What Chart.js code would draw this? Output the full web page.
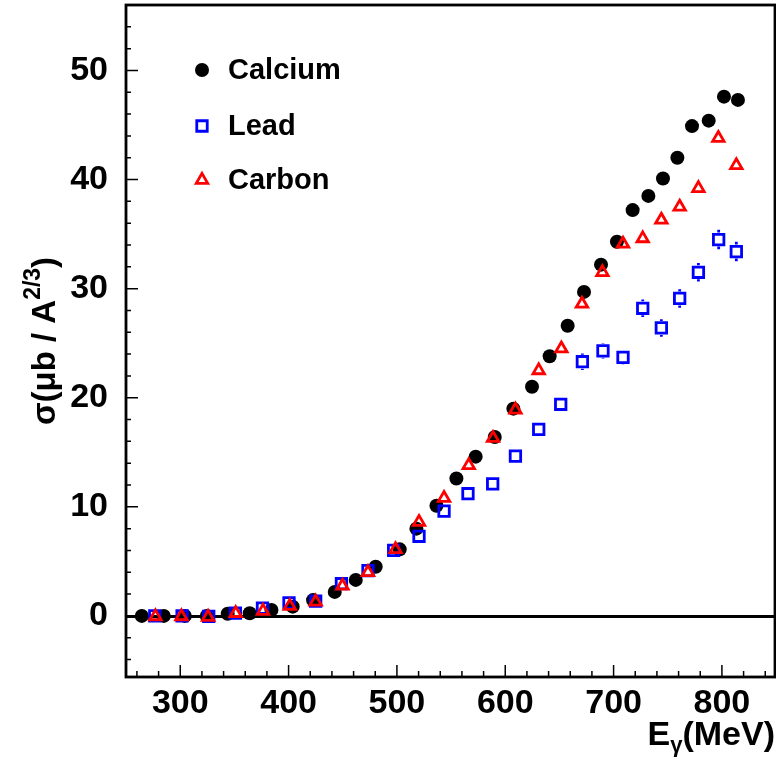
<!DOCTYPE html>
<html>
<head>
<meta charset="utf-8">
<script src="https://cdn.jsdelivr.net/npm/chart.js@4.4.1/dist/chart.umd.min.js"></script>
<style>
  html, body { margin: 0; padding: 0; background: #fff; }
</style>
</head>
<body>
<canvas id="chart" width="776" height="760"></canvas>
<script>
/* ---- data (E_gamma in MeV, sigma in ub / A^2/3) ---- */
const calciumE = [264.5, 284.8, 304.2, 324.5, 343.8, 364.1, 384.2, 403.8, 422.6, 442.6, 462.0, 480.4,
  502.6, 518.0, 536.5, 554.9, 572.7, 590.3, 607.5, 624.7, 641.0, 657.6, 672.7, 688.4, 703.1, 717.6,
  732.1, 745.6, 758.9, 772.4, 787.8, 801.9, 814.8];
const calciumXs = [0.0, 0.0, 0.0, 0.0, 0.2, 0.25, 0.55, 0.85, 1.45, 2.2, 3.3, 4.5,
  6.1, 8.0, 10.1, 12.6, 14.6, 16.4, 19.0, 21.0, 23.8, 26.6, 29.7, 32.2, 34.3, 37.2,
  38.5, 40.1, 42.0, 44.9, 45.4, 47.6, 47.3];

const leadE = [276.5, 301.7, 326.3, 350.9, 375.9, 400.4, 425.0, 448.8, 473.3, 497.0, 520.4, 543.5,
  565.6, 588.4, 609.4, 630.9, 651.2, 671.2, 690.2, 708.7, 726.9, 744.1, 761.0, 778.3, 797.0, 813.3];
const leadXs = [0.0, 0.0, -0.05, 0.25, 0.72, 1.2, 1.35, 2.95, 4.15, 6.0, 7.3, 9.6,
  11.2, 12.1, 14.65, 17.1, 19.4, 23.3, 24.3, 23.7, 28.2, 26.4, 29.1, 31.5, 34.5, 33.4];
const leadErr = [0.15, 0.15, 0.15, 0.2, 0.2, 0.25, 0.25, 0.3, 0.3, 0.35, 0.35, 0.4,
  0.4, 0.45, 0.55, 0.55, 0.6, 0.75, 0.7, 0.65, 0.8, 0.8, 0.85, 0.85, 0.9, 0.9];

const carbonE = [277.1, 301.1, 325.7, 351.2, 376.4, 401.1, 425.0, 449.7, 473.3, 498.7, 520.4, 543.5,
  566.3, 588.7, 609.4, 630.9, 651.8, 670.8, 689.7, 708.7, 726.9, 744.1, 761.0, 778.3, 796.7, 813.3];
const carbonXs = [-0.05, -0.05, -0.1, 0.25, 0.45, 0.9, 1.3, 2.75, 4.0, 6.1, 8.6, 10.8,
  13.8, 16.3, 18.9, 22.5, 24.5, 28.6, 31.5, 34.1, 34.6, 36.3, 37.5, 39.2, 43.8, 41.3];

const xTicks = [300, 400, 500, 600, 700, 800];
const yTicks = [0, 10, 20, 30, 40, 50];
const seriesNames = ["Calcium", "Lead", "Carbon"];

const FONT = '"Liberation Sans", Arial, Helvetica, sans-serif';

const toPoints = (xs, ys) => xs.map((x, i) => ({ x, y: ys[i] }));

// frame, inward ticks, zero line, error bars, titles and legend (ROOT style)
const rootStyle = {
  id: "rootStyle",
  beforeDatasetsDraw(chart) {
    const { ctx, chartArea: a, scales: { y } } = chart;
    const y0 = Math.round(y.getPixelForValue(0)) + 0.5;
    ctx.save();
    ctx.strokeStyle = "#000";
    ctx.lineWidth = 3;
    ctx.beginPath();
    ctx.moveTo(a.left, y0);
    ctx.lineTo(a.right, y0);
    ctx.stroke();
    ctx.restore();
  },
  afterDatasetsDraw(chart) {
    const { ctx, scales: { x, y } } = chart;
    const half = 7;
    ctx.save();
    ctx.strokeStyle = "#0000ff";
    ctx.lineWidth = 2.8;
    leadE.forEach((e, i) => {
      const px = x.getPixelForValue(e);
      const py = y.getPixelForValue(leadXs[i]);
      const top = y.getPixelForValue(leadXs[i] + leadErr[i]);
      const bot = y.getPixelForValue(leadXs[i] - leadErr[i]);
      ctx.beginPath();
      if (py - top > half) { ctx.moveTo(px, top); ctx.lineTo(px, py - half); }
      if (bot - py > half) { ctx.moveTo(px, py + half); ctx.lineTo(px, bot); }
      ctx.stroke();
    });
    ctx.restore();
  },
  afterDraw(chart) {
    const { ctx, chartArea: a, scales: { x, y } } = chart;
    ctx.save();
    ctx.strokeStyle = "#000";
    ctx.lineWidth = 2.8;
    ctx.strokeRect(a.left + 1, a.top, a.right - a.left - 1, a.bottom - a.top);

    // ticks pointing into the frame
    ctx.lineWidth = 1.5;
    ctx.beginPath();
    for (let v = 260; v <= 840; v += 20) {
      const px = x.getPixelForValue(v);
      const len = v % 100 === 0 ? 12 : 6;
      ctx.moveTo(px, a.bottom);
      ctx.lineTo(px, a.bottom - len);
    }
    for (let v = -4; v <= 54; v += 2) {
      const py = y.getPixelForValue(v);
      const len = v % 10 === 0 ? 13 : 6;
      ctx.moveTo(a.left, py);
      ctx.lineTo(a.left + len, py);
    }
    ctx.stroke();

    ctx.fillStyle = "#000";
    ctx.textBaseline = "alphabetic";

    // x title: E_gamma(MeV), right aligned to the frame
    const big = "bold 34px " + FONT, sub = "bold 22px " + FONT;
    ctx.font = big; const wE = ctx.measureText("E").width;
    ctx.font = sub; const wG = ctx.measureText("γ").width;
    ctx.font = big; const wM = ctx.measureText("(MeV)").width;
    let tx = 775 - (wE + wG + wM);
    ctx.font = big; ctx.fillText("E", tx, 745); tx += wE;
    ctx.font = sub; ctx.fillText("γ", tx, 752); tx += wG;
    ctx.font = big; ctx.fillText("(MeV)", tx, 745);

    // y title: sigma(ub / A^{2/3}), rotated
    ctx.save();
    ctx.translate(55, (a.top + a.bottom) / 2);
    ctx.rotate(-Math.PI / 2);
    const main = "bold 33px " + FONT, sup = "bold 23px " + FONT;
    ctx.font = main; const w1 = ctx.measureText("σ(μb / A").width;
    ctx.font = sup; const w2 = ctx.measureText("2/3").width;
    ctx.font = main; const w3 = ctx.measureText(")").width;
    let ux = -(w1 + w2 + w3) / 2;
    ctx.font = main; ctx.fillText("σ(μb / A", ux, 0); ux += w1;
    ctx.font = sup; ctx.fillText("2/3", ux, -15); ux += w2;
    ctx.font = main; ctx.fillText(")", ux, 0);
    ctx.restore();

    // legend inside the frame
    const rows = [70, 126, 180];
    chart.data.datasets.forEach((ds, i) => {
      ctx.fillStyle = ds.backgroundColor;
      ctx.strokeStyle = ds.borderColor;
      ctx.lineWidth = ds.borderWidth;
      Chart.helpers.drawPoint(ctx, {
        pointStyle: ds.pointStyle, radius: ds.pointRadius, rotation: 0, borderWidth: ds.borderWidth
      }, 202, rows[i]);
      ctx.fillStyle = "#000";
      ctx.font = "bold 29px " + FONT;
      ctx.textBaseline = "middle";
      ctx.fillText(ds.label, 228, rows[i] + 1);
    });
    ctx.restore();
  }
};

new Chart(document.getElementById("chart"), {
  type: "scatter",
  data: {
    datasets: [
      {
        label: seriesNames[0],
        data: toPoints(calciumE, calciumXs),
        pointStyle: "circle",
        pointRadius: 7,
        backgroundColor: "#000000",
        borderColor: "#000000",
        borderWidth: 0,
        order: 3
      },
      {
        label: seriesNames[1],
        data: toPoints(leadE, leadXs),
        pointStyle: "rect",
        pointRadius: 7.4,
        backgroundColor: "rgba(0,0,0,0)",
        borderColor: "#0000ff",
        borderWidth: 2.8,
        order: 2
      },
      {
        label: seriesNames[2],
        data: toPoints(carbonE, carbonXs),
        pointStyle: "triangle",
        pointRadius: 6.6,
        backgroundColor: "rgba(0,0,0,0)",
        borderColor: "#ff0000",
        borderWidth: 2.8,
        order: 1
      }
    ]
  },
  options: {
    responsive: false,
    animation: false,
    devicePixelRatio: 1,
    layout: { autoPadding: false, padding: { top: 5, right: 1, left: 0, bottom: 0 } },
    plugins: {
      legend: { display: false },
      tooltip: { enabled: false }
    },
    scales: {
      x: {
        type: "linear",
        position: "bottom",
        min: 249,
        max: 849,
        afterBuildTicks: s => { s.ticks = xTicks.map(v => ({ value: v })); },
        afterFit: s => { s.height = 83; s.paddingLeft = 0; s.paddingRight = 0; },
        grid: { display: false, drawTicks: false },
        border: { display: false },
        ticks: {
          color: "#000",
          font: { family: FONT, size: 34, weight: "bold" },
          padding: 6,
          maxRotation: 0,
          autoSkip: false
        }
      },
      y: {
        type: "linear",
        min: -5.6,
        max: 56,
        afterBuildTicks: s => { s.ticks = yTicks.map(v => ({ value: v })); },
        afterFit: s => { s.width = 125; s.paddingTop = 0; s.paddingBottom = 0; },
        grid: { display: false, drawTicks: false },
        border: { display: false },
        ticks: {
          color: "#000",
          font: { family: FONT, size: 34, weight: "bold" },
          padding: 17
        }
      }
    }
  },
  plugins: [rootStyle]
});
</script>
</body>
</html>
